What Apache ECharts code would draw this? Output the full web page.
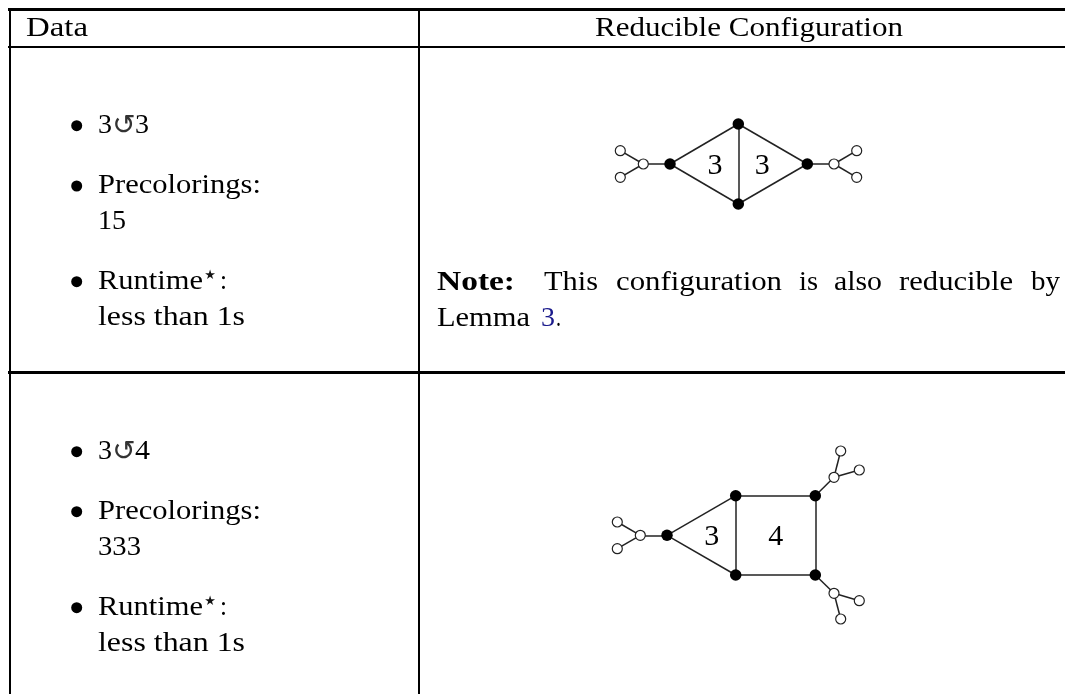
<!DOCTYPE html>
<html><head><meta charset="utf-8">
<style>html,body{margin:0;padding:0;background:#fff}#c{width:1065px;height:694px}</style>
<script src="https://cdn.jsdelivr.net/npm/echarts@6/dist/echarts.min.js"></script>
</head><body><div id="c"></div>
<script>
// graph 1: 3-3 configuration
const filled1 = [[670,164],[738.3,124],[738.3,204],[807.3,164]];
const open1 = [[643.3,164],[620.3,150.7],[620.3,177.3],[834,164],[856.7,150.7],[856.7,177.3]];
const edges1 = [[[670,164],[738.3,124]],[[670,164],[738.3,204]],[[738.3,124],[738.3,204]],[[738.3,124],[807.3,164]],[[738.3,204],[807.3,164]],
 [[670,164],[643.3,164]],[[643.3,164],[620.3,150.7]],[[643.3,164],[620.3,177.3]],[[807.3,164],[834,164]],[[834,164],[856.7,150.7]],[[834,164],[856.7,177.3]]];
// graph 2: 3-4 configuration
const filled2 = [[667,535.3],[735.7,495.7],[735.7,575],[815.3,495.7],[815.3,575]];
const open2 = [[640.3,535.3],[617.3,522],[617.3,548.7],[834,477.3],[840.7,451],[859.3,470],[834,593.3],[859.3,600.7],[840.7,619]];
const edges2 = [[[667,535.3],[735.7,495.7]],[[667,535.3],[735.7,575]],[[735.7,495.7],[735.7,575]],[[735.7,495.7],[815.3,495.7]],[[735.7,575],[815.3,575]],[[815.3,495.7],[815.3,575]],
 [[667,535.3],[640.3,535.3]],[[640.3,535.3],[617.3,522]],[[640.3,535.3],[617.3,548.7]],
 [[815.3,495.7],[834,477.3]],[[834,477.3],[840.7,451]],[[834,477.3],[859.3,470]],
 [[815.3,575],[834,593.3]],[[834,593.3],[859.3,600.7]],[[834,593.3],[840.7,619]]];
const faceLabels = [[715,166,'3'],[762.3,166,'3'],[711.7,537,'3'],[775.7,537,'4']];
const bullets = [[76.7,125.7],[76.7,186],[76.7,281.7],[76.7,451.7],[76.7,511.7],[76.7,607.7]];
const ruleThick = [[[8,9.5],[1065,9.5]],[[8,372.5],[1065,372.5]]];
const ruleThin = [[[8,47],[1065,47]]];
const ruleV = [[[9.4,8],[9.4,694]],[[419,8],[419,694]]];
// [text, left, right, baseline]
const cellText = [
 ['Data',26,88,36],['Reducible Configuration',595,903,36],
 ['3',98,112,133],['3',135,149,133],
 ['Precolorings:',98,261,193],['15',98,126,229],
 ['Runtime',98,203,289],[':',220,227,289],['less than 1s',98,245,325],
 ['3',98,112,459],['4',135,150,459],
 ['Precolorings:',98,261,519],['333',98,141,555],
 ['Runtime',98,203,615],[':',220,227,615],['less than 1s',98,245,651],
 ['This',544,598,290],['configuration',616,782,290],['is',799,818,290],['also',834,882,290],['reducible',899,1013,290],['by',1031,1060,290],
 ['Lemma',437,530,326],['.',556,561,326]
];
const boldText = [['Note:',437,515,290]];
const linkText = [['3',541,555,326]];
const rotSymbols = [[124,133],[124,459]];
const stars = [[210,270],[210,596]];
const SERIF='"Liberation Serif"', SZ=28;
const ctx=document.createElement('canvas').getContext('2d');
function T(s,l,r,b,o){o=o||{};const font=(o.weight||'normal')+' '+SZ+'px '+SERIF;ctx.font=font;
 const sx=(r-l)/ctx.measureText(s).width;
 return {type:'text',x:l,y:b-SZ*0.275,scaleX:sx,style:{text:s,x:0,y:0,fill:o.fill||'#000',font:font,textVerticalAlign:'middle'}};}
function G(s,x,y,size,fill){return {type:'text',x:x,y:y,style:{text:s,x:0,y:0,fill:fill,font:size+'px "DejaVu Sans"',textAlign:'center',textVerticalAlign:'middle'}};}
const texts = cellText.map(r=>T(r[0],r[1],r[2],r[3]))
 .concat(boldText.map(r=>T(r[0],r[1],r[2],r[3],{weight:'bold'})))
 .concat(linkText.map(r=>T(r[0],r[1],r[2],r[3],{fill:'#1a1a8c'})))
 .concat(rotSymbols.map(p=>G('\u21ba',p[0],p[1]-6,28,'#333')))
 .concat(stars.map(p=>G('\u2605',p[0],p[1]+6,13,'#111')));
const lineBase={type:'lines',coordinateSystem:'cartesian2d',polyline:false,silent:true};
const chart=echarts.init(document.getElementById('c'),null,{renderer:'canvas'});
chart.setOption({animation:false,backgroundColor:'#fff',
 grid:{left:0,right:0,top:0,bottom:0},
 xAxis:{type:'value',min:0,max:1065,show:false},
 yAxis:{type:'value',min:0,max:694,inverse:true,show:false},
 graphic:{elements:texts},
 series:[
  {...lineBase,z:1,lineStyle:{color:'#000',width:2.8,opacity:1},data:ruleThick.map(c=>({coords:c}))},
  {...lineBase,z:1,lineStyle:{color:'#000',width:2,opacity:1},data:ruleThin.map(c=>({coords:c}))},
  {...lineBase,z:1,lineStyle:{color:'#000',width:2,opacity:1},data:ruleV.map(c=>({coords:c}))},
  {...lineBase,z:2,lineStyle:{color:'#222',width:1.5,opacity:1},data:edges1.concat(edges2).map(c=>({coords:c}))},
  {type:'scatter',z:3,symbol:'circle',symbolSize:11.5,silent:true,itemStyle:{color:'#000',opacity:1},data:filled1.concat(filled2)},
  {type:'scatter',z:3,symbol:'circle',symbolSize:10,silent:true,itemStyle:{color:'#fff',borderColor:'#222',borderWidth:1.2,opacity:1},data:open1.concat(open2)},
  {type:'scatter',z:3,symbol:'circle',symbolSize:11,silent:true,itemStyle:{color:'#000',opacity:1},data:bullets},
  {type:'scatter',z:3,symbol:'circle',symbolSize:0,silent:true,data:faceLabels.map(f=>({value:[f[0],f[1]],label:{show:true,position:'inside',formatter:f[2],color:'#000',opacity:1,fontFamily:SERIF,fontSize:30}}))}
 ]});
</script></body></html>
